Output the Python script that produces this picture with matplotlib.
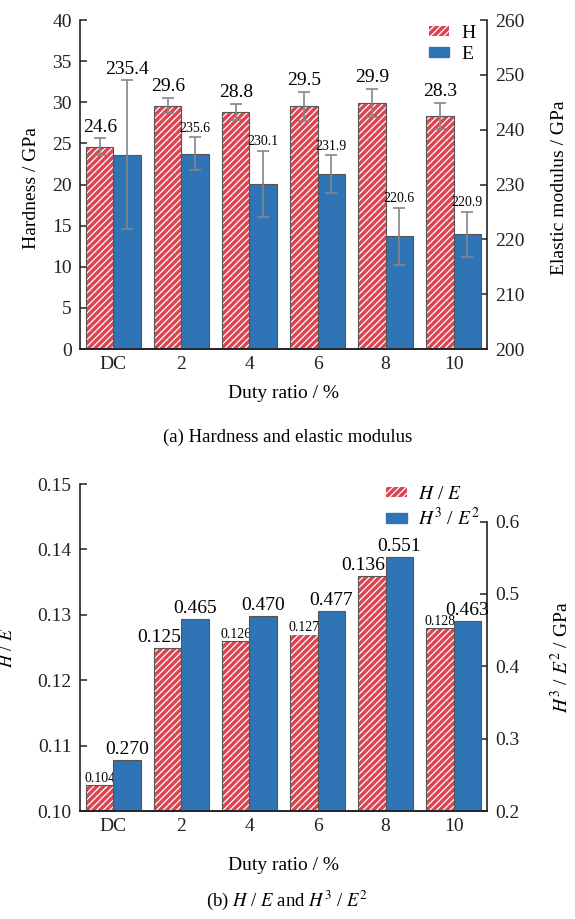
import matplotlib
matplotlib.use("Agg")
import matplotlib.pyplot as plt
import numpy as np
from matplotlib.patches import Patch

# data
duty = ["DC", "2", "4", "6", "8", "10"]
hardness = [24.6, 29.6, 28.8, 29.5, 29.9, 28.3]
hardness_err = [1.0, 0.9, 1.0, 1.8, 1.7, 1.6]
modulus = [235.4, 235.6, 230.1, 231.9, 220.6, 220.9]
modulus_err = [13.6, 3.0, 6.0, 3.4, 5.2, 4.1]
h_over_e = [0.104, 0.125, 0.126, 0.127, 0.136, 0.128]
h3_over_e2 = [0.270, 0.465, 0.470, 0.477, 0.551, 0.463]

# which value labels are printed small in the original
small_e = [False, True, True, True, True, True]
small_he = [True, False, True, True, False, True]

RED = "#dc4452"
BLUE = "#2f74b5"
EDGE = "#555555"
GREY = "#858585"

plt.rcParams["font.family"] = ["Liberation Serif", "DejaVu Serif"]
plt.rcParams["mathtext.fontset"] = "stix"
plt.rcParams["hatch.linewidth"] = 0.9
plt.rcParams["font.size"] = 14

fig = plt.figure(figsize=(5.75, 9.19), dpi=100)
ax1 = fig.add_axes([0.1391, 0.6202, 0.7078, 0.358])
ax3 = fig.add_axes([0.1391, 0.1175, 0.7078, 0.3558])

x = np.arange(len(duty))
w = 0.4


def hatched_bars(ax, xs, vals, bottom):
    ax.bar(xs, np.array(vals) - bottom, w, bottom=bottom, color=RED,
           edgecolor="white", hatch="/////", linewidth=0, zorder=2)
    ax.bar(xs, np.array(vals) - bottom, w, bottom=bottom, facecolor="none",
           edgecolor=EDGE, linewidth=0.8, zorder=3)


def style(ax, twin, xpad):
    ax.spines["right"].set_visible(False)
    twin.spines["left"].set_visible(False)
    for a in (ax, twin):
        a.spines["top"].set_visible(False)
        for s in a.spines.values():
            s.set_linewidth(1.2)
            s.set_color("#222222")
        a.tick_params(direction="in", length=5, width=1.1, labelsize=14,
                      colors="#222222", pad=6)
    ax.tick_params(axis="x", pad=5)
    ax.set_xticks(x)
    ax.set_xticklabels(duty)
    ax.set_xlim(-0.49, 5.49)
    ax.set_xlabel("Duty ratio / %", labelpad=xpad)


def legend(ax, handles, anchor):
    ax.legend(handles=handles, loc="upper right", bbox_to_anchor=anchor,
              frameon=False, fontsize=14, handlelength=1.05, handleheight=0.45,
              handletextpad=0.6, labelspacing=0.2, borderaxespad=0.2)


# ---------- (a) hardness and elastic modulus
ax2 = ax1.twinx()
hatched_bars(ax1, x - w / 2, hardness, 0)
ax1.errorbar(x - w / 2, hardness, yerr=hardness_err, fmt="none", ecolor=GREY,
             elinewidth=1.2, capsize=4, capthick=1.2, zorder=4)
ax2.bar(x + w / 2, np.array(modulus) - 200, w, bottom=200, color=BLUE,
        edgecolor=EDGE, linewidth=0.8, zorder=2)
ax2.errorbar(x + w / 2, modulus, yerr=modulus_err, fmt="none", ecolor=GREY,
             elinewidth=1.2, capsize=4, capthick=1.2, zorder=4)

ax1.set_ylim(0, 40)
ax1.set_yticks(range(0, 41, 5))
ax2.set_ylim(200, 260)
ax2.set_yticks(range(200, 261, 10))
ax1.set_ylabel("Hardness / GPa")
ax2.set_ylabel("Elastic modulus / GPa")
style(ax1, ax2, 9)
ax1.yaxis.set_label_coords(-0.099, 0.49)
ax2.yaxis.set_label_coords(1.158, 0.49)

for i in range(len(duty)):
    ax1.annotate(f"{hardness[i]:.1f}", (x[i] - w / 2, hardness[i] + hardness_err[i]),
                 xytext=(0, 2), textcoords="offset points", ha="center",
                 va="bottom", fontsize=14)
    ax2.annotate(f"{modulus[i]:.1f}", (x[i] + w / 2, modulus[i] + modulus_err[i]),
                 xytext=(0, 2), textcoords="offset points", ha="center",
                 va="bottom", fontsize=10 if small_e[i] else 14)

legend(ax2, [Patch(facecolor=RED, edgecolor="white", hatch="/////", lw=0, label="H"),
             Patch(facecolor=BLUE, edgecolor=BLUE, label="E")], (1.0, 1.02))

fig.text(0.5, 1 - 437 / 919, "(a) Hardness and elastic modulus",
         ha="center", va="center", fontsize=13.5)

# ---------- (b) H/E and H^3/E^2
ax4 = ax3.twinx()
hatched_bars(ax3, x - w / 2, h_over_e, 0.10)
ax4.bar(x + w / 2, np.array(h3_over_e2) - 0.2, w, bottom=0.2, color=BLUE,
        edgecolor=EDGE, linewidth=0.8, zorder=2)

ax3.set_ylim(0.10, 0.15)
ax3.set_yticks(np.arange(0.10, 0.151, 0.01))
ax3.yaxis.set_major_formatter(matplotlib.ticker.FormatStrFormatter("%.2f"))
ax4.set_ylim(0.2, 0.652)
ax4.set_yticks(np.arange(0.2, 0.61, 0.1))
ax4.yaxis.set_major_formatter(matplotlib.ticker.FormatStrFormatter("%.1f"))
ax3.set_ylabel("$H$ / $E$", fontsize=13)
ax4.set_ylabel("$H^3$ / $E^2$ / GPa")
style(ax3, ax4, 16)
ax4.spines["right"].set_bounds(0.2, 0.6)
ax3.yaxis.set_label_coords(-0.157, 0.5)
ax4.yaxis.set_label_coords(1.155, 0.47)

for i in range(len(duty)):
    if small_he[i]:
        ax3.annotate(f"{h_over_e[i]:.3f}", (x[i] - w / 2, h_over_e[i]),
                     xytext=(0, 0), textcoords="offset points", ha="center",
                     va="bottom", fontsize=10, zorder=5,
                     bbox=dict(facecolor="white", edgecolor="none", pad=0.05))
    else:
        ax3.annotate(f"{h_over_e[i]:.3f}", (x[i], h_over_e[i]),
                     xytext=(0, 1), textcoords="offset points", ha="right",
                     va="bottom", fontsize=14, zorder=5,
                     bbox=dict(facecolor="white", edgecolor="none", pad=0.1))
    ax4.annotate(f"{h3_over_e2[i]:.3f}", (x[i] + w / 2, h3_over_e2[i]),
                 xytext=(0, 1.5), textcoords="offset points", ha="center",
                 va="bottom", fontsize=14)

legend(ax4, [Patch(facecolor=RED, edgecolor="white", hatch="/////", lw=0, label="$H$ / $E$"),
             Patch(facecolor=BLUE, edgecolor=BLUE, label="$H^3$ / $E^2$")], (1.012, 1.03))

fig.text(0.5, 1 - 900 / 919, "(b) $H$ / $E$ and $H^3$ / $E^2$",
         ha="center", va="center", fontsize=13.5)

fig.savefig("out.png", dpi=100)
